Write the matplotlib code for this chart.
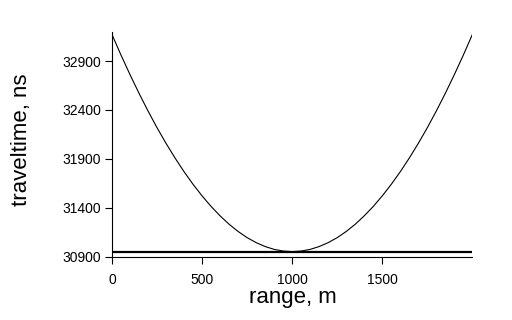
import matplotlib
matplotlib.use("Agg")
import matplotlib.pyplot as plt

# values
range_m = [0, 50, 100, 150, 200, 250, 300, 350, 400, 450, 500,
           550, 600, 650, 700, 750, 800, 850, 900, 950, 1000,
           1050, 1100, 1150, 1200, 1250, 1300, 1350, 1400, 1450, 1500,
           1550, 1600, 1650, 1700, 1750, 1800, 1850, 1900, 1950, 2000]
traveltime_ns = [33170, 32960, 32760, 32569, 32388, 32217, 32057, 31907, 31767, 31638, 31520,
                 31412, 31316, 31230, 31156, 31093, 31042, 31002, 30973, 30956, 30950,
                 30956, 30973, 31002, 31042, 31093, 31156, 31230, 31316, 31412, 31520,
                 31638, 31767, 31907, 32057, 32217, 32388, 32569, 32760, 32960, 33170]
direct_range = [0, 2000]
direct_time = [30950, 30950]

xticks = [0, 500, 1000, 1500]
yticks = [30900, 31400, 31900, 32400, 32900]

plt.rcParams['font.family'] = ['Liberation Sans', 'DejaVu Sans']

fig = plt.figure(figsize=(5.12, 3.2), dpi=100)
ax = fig.add_axes([0.2188, 0.1984, 0.7037, 0.7026])

ax.plot(range_m, traveltime_ns, color='black', lw=0.8)
ax.plot(direct_range, direct_time, color='black', lw=1.6)

ax.set_xlim(0, 2000)
ax.set_ylim(30900, 33200)
ax.set_xticks(xticks)
ax.set_yticks(yticks)
ax.tick_params(direction='out', length=5, width=0.8, labelsize=10, color='black')
ax.tick_params(axis='x', pad=7)
ax.tick_params(axis='y', pad=3)

for s in ['top', 'right']:
    ax.spines[s].set_visible(False)
for s in ['left', 'bottom']:
    ax.spines[s].set_linewidth(0.8)

ax.set_xlabel('range, m', fontsize=16)
ax.set_ylabel('traveltime, ns', fontsize=16)
ax.xaxis.set_label_coords(0.502, -0.135)
ax.yaxis.set_label_coords(-0.222, 0.518)

fig.savefig('out.png', dpi=100)
